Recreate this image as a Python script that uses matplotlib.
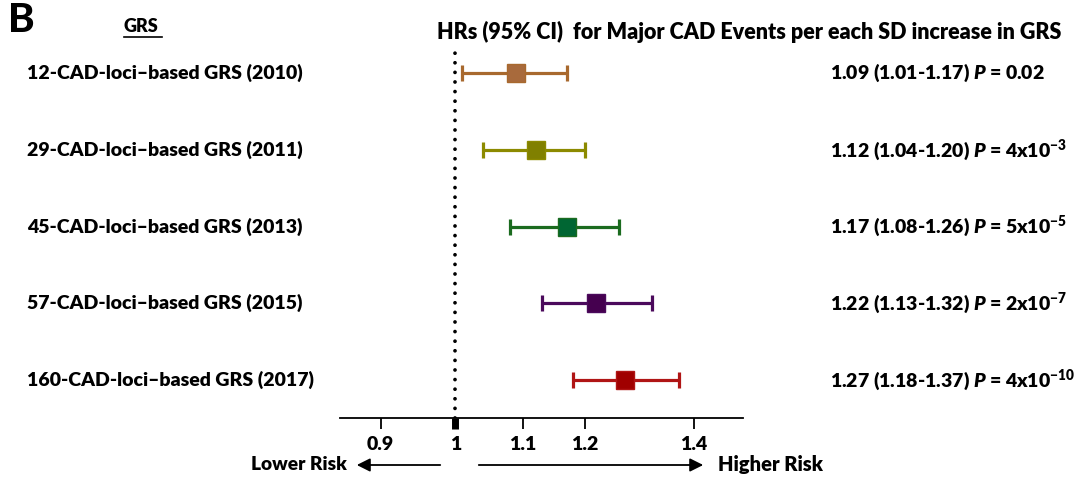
import numpy as np
import matplotlib
matplotlib.use("Agg")
import matplotlib.pyplot as plt
import matplotlib.transforms as mtransforms

plt.rcParams['font.family'] = ['Lato', 'DejaVu Sans']
plt.rcParams['font.weight'] = 'heavy'
plt.rcParams['mathtext.fontset'] = 'custom'
plt.rcParams['mathtext.rm'] = 'Lato:heavy'
plt.rcParams['mathtext.it'] = 'Lato:heavy:italic'
plt.rcParams['mathtext.bf'] = 'Lato:heavy'

# data
labels = ["12-CAD-loci\u2013based GRS (2010)",
          "29-CAD-loci\u2013based GRS (2011)",
          "45-CAD-loci\u2013based GRS (2013)",
          "57-CAD-loci\u2013based GRS (2015)",
          "160-CAD-loci\u2013based GRS (2017)"]
hr = np.array([1.09, 1.12, 1.17, 1.22, 1.27])
lo = np.array([1.01, 1.04, 1.08, 1.13, 1.18])
hi = np.array([1.17, 1.20, 1.26, 1.32, 1.37])
pvals = ["0.02", "4x10$^{-3}$", "5x10$^{-5}$", "2x10$^{-7}$", "4x10$^{-10}$"]
line_colors = ["#A8692E", "#8C8A00", "#1B6B1F", "#4B0A5C", "#B01515"]
marker_colors = ["#A86A3C", "#808000", "#006633", "#45004F", "#A00000"]
xticks = [0.9, 1, 1.1, 1.2, 1.4]

W = "heavy"

fig = plt.figure(figsize=(10.76, 4.79), dpi=100)
ax = fig.add_axes([340/1076, 1 - 418/479, 403/1076, 373/479])
ax.set_xscale('log')
ax.set_xlim(0.85, 1.5)
ax.set_ylim(0.505, 5.365)

ypos = np.arange(len(hr), 0, -1)
for i in range(len(hr)):
    ax.errorbar(hr[i], ypos[i], xerr=[[hr[i] - lo[i]], [hi[i] - hr[i]]],
                fmt='none', ecolor=line_colors[i], elinewidth=2.3,
                capsize=5.5, capthick=2.3, zorder=2)
    ax.plot(hr[i], ypos[i], 's', ms=12.5, color=marker_colors[i],
            mec=line_colors[i], mew=1, zorder=3)

# reference line at HR = 1
ax.plot([1, 1], [0.505, 5.33], color='black', lw=2.7,
        linestyle=(0, (0.01, 2.55)), dash_capstyle='round', zorder=1)

for s in ['top', 'right', 'left']:
    ax.spines[s].set_visible(False)
ax.spines['bottom'].set_linewidth(1.3)
ax.set_yticks([])
ax.set_xticks(xticks)
ax.set_xticklabels([str(t) for t in xticks], fontsize=14, fontweight=W)
ax.xaxis.set_minor_locator(matplotlib.ticker.NullLocator())
ax.tick_params(axis='x', direction='out', length=8, width=1.3, pad=5)
ax.xaxis.get_major_ticks()[1].tick1line.set_markeredgewidth(5)

# row labels and values
trans = mtransforms.blended_transform_factory(fig.transFigure, ax.transData)
for i in range(len(hr)):
    ax.text(27/1076, ypos[i], labels[i], transform=trans,
            ha='left', va='center', fontsize=14, fontweight=W)
    txt = f"{hr[i]:.2f} ({lo[i]:.2f}-{hi[i]:.2f}) $P$ = {pvals[i]}"
    ax.text(830/1076, ypos[i], txt, transform=trans,
            ha='left', va='center', fontsize=14, fontweight=W)

fig.text(8/1076, 1 - 20/479, "B", fontsize=29, fontweight='black', va='center', ha='left')
fig.text(124/1076, 1 - 27/479, "GRS", fontsize=13, fontweight=W, va='center', ha='left')
fig.add_artist(plt.Line2D([124/1076, 162/1076], [1 - 37/479, 1 - 37/479], color='black', lw=1.2))
fig.text(437/1076, 1 - 32/479, "HRs (95% CI)  for Major CAD Events per each SD increase in GRS",
         fontsize=15.5, fontweight=W, va='center', ha='left')

# risk arrows
ya = 1 - 465/479
fig.add_artist(matplotlib.patches.FancyArrowPatch((443/1076, ya), (354/1076, ya),
               transform=fig.transFigure, arrowstyle='-|>', mutation_scale=20, lw=1.3, color='black'))
fig.add_artist(matplotlib.patches.FancyArrowPatch((476/1076, ya), (706/1076, ya),
               transform=fig.transFigure, arrowstyle='-|>', mutation_scale=20, lw=1.3, color='black'))
fig.text(347/1076, ya, "Lower Risk", fontsize=13.8, fontweight=W, va='center', ha='right')
fig.text(718/1076, ya, "Higher Risk", fontsize=14.5, fontweight=W, va='center', ha='left')

fig.savefig("out.png", dpi=100)
